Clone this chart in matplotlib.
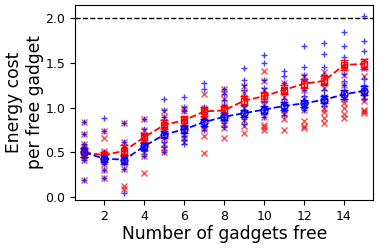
import matplotlib
matplotlib.use("Agg")
import matplotlib.pyplot as plt
import numpy as np

n_free = list(range(1, 16))

red_points = [
    [0.84, 0.71, 0.60, 0.56, 0.52, 0.50, 0.47, 0.45, 0.42, 0.19],
    [0.74, 0.66, 0.52, 0.49, 0.46, 0.43, 0.40, 0.37, 0.30, 0.22],
    [0.83, 0.62, 0.56, 0.52, 0.42, 0.38, 0.31, 0.13, 0.09],
    [0.87, 0.75, 0.70, 0.67, 0.63, 0.60, 0.55, 0.50, 0.46, 0.27],
    [0.96, 0.90, 0.84, 0.80, 0.76, 0.72, 0.66, 0.60, 0.55, 0.51],
    [1.00, 0.96, 0.88, 0.83, 0.79, 0.75, 0.70, 0.66, 0.62],
    [1.15, 1.00, 0.96, 0.90, 0.86, 0.80, 0.76, 0.68, 0.49],
    [1.21, 1.16, 1.10, 1.02, 0.96, 0.88, 0.82, 0.77, 0.66],
    [1.24, 1.16, 1.10, 1.00, 0.93, 0.86, 0.80, 0.72],
    [1.41, 1.30, 1.20, 1.12, 1.03, 0.96, 0.90, 0.81, 0.78, 0.75],
    [1.28, 1.20, 1.12, 1.05, 0.98, 0.93, 0.88, 0.75],
    [1.36, 1.30, 1.20, 1.10, 1.02, 0.98, 0.85, 0.80, 0.77],
    [1.40, 1.33, 1.22, 1.12, 1.05, 0.99, 0.95, 0.89, 0.83],
    [1.46, 1.37, 1.25, 1.15, 1.10, 1.05, 1.00, 0.93, 0.89],
    [1.52, 1.45, 1.35, 1.20, 1.12, 1.08, 0.98, 0.96, 0.94],
]

blue_points = [
    [0.84, 0.71, 0.60, 0.56, 0.52, 0.50, 0.47, 0.45, 0.42, 0.19],
    [0.885, 0.74, 0.50, 0.47, 0.44, 0.42, 0.40, 0.37, 0.30, 0.22],
    [0.83, 0.62, 0.56, 0.52, 0.45, 0.42, 0.38, 0.31, 0.05],
    [0.87, 0.76, 0.70, 0.64, 0.60, 0.57, 0.55, 0.52, 0.46],
    [1.10, 0.97, 0.90, 0.84, 0.78, 0.72, 0.67, 0.62, 0.56, 0.50],
    [1.12, 1.01, 0.96, 0.88, 0.80, 0.76, 0.72, 0.68, 0.64, 0.60],
    [1.28, 1.21, 1.01, 0.95, 0.90, 0.86, 0.82, 0.79, 0.75],
    [1.21, 1.15, 1.09, 1.03, 0.95, 0.90, 0.87, 0.83, 0.78],
    [1.45, 1.31, 1.26, 1.20, 1.13, 1.02, 0.96, 0.92, 0.88, 0.82],
    [1.59, 1.50, 1.31, 1.22, 1.18, 1.07, 1.00, 0.97, 0.93, 0.90],
    [1.41, 1.35, 1.28, 1.22, 1.17, 1.10, 1.04, 1.00, 0.96, 0.92],
    [1.69, 1.46, 1.37, 1.31, 1.20, 1.13, 1.08, 1.04, 1.00, 0.97],
    [1.73, 1.60, 1.46, 1.37, 1.28, 1.20, 1.14, 1.10, 1.06, 1.02],
    [1.85, 1.69, 1.57, 1.46, 1.38, 1.30, 1.25, 1.20, 1.14, 1.10],
    [2.03, 1.75, 1.63, 1.44, 1.32, 1.26, 1.20, 1.17, 1.14, 1.10],
]

red_mean = [0.50, 0.47, 0.52, 0.67, 0.81, 0.86, 0.96, 0.97, 1.08, 1.13, 1.20, 1.27, 1.30, 1.48, 1.49]
red_err = [0.05, 0.04, 0.06, 0.05, 0.05, 0.05, 0.05, 0.05, 0.05, 0.05, 0.05, 0.05, 0.05, 0.06, 0.06]
blue_mean = [0.50, 0.43, 0.42, 0.57, 0.70, 0.76, 0.84, 0.90, 0.94, 0.98, 1.02, 1.05, 1.09, 1.15, 1.19]
blue_err = [0.05, 0.04, 0.05, 0.04, 0.04, 0.04, 0.04, 0.04, 0.04, 0.04, 0.04, 0.04, 0.04, 0.05, 0.05]

fig = plt.figure(figsize=(3.81, 2.48), dpi=100)
ax = fig.add_axes([0.197, 0.194, 0.783, 0.786])

for n, vals in zip(n_free, red_points):
    ax.plot([n] * len(vals), vals, linestyle="none", marker="x", color="red",
            markersize=4, markeredgewidth=1.0, alpha=0.7)
for n, vals in zip(n_free, blue_points):
    ax.plot([n] * len(vals), vals, linestyle="none", marker="+", color="blue",
            markersize=5, markeredgewidth=1.0, alpha=0.75)

ax.errorbar(n_free, red_mean, yerr=red_err, color="red", linestyle="--",
            marker="s", markerfacecolor="none", markersize=5, capsize=3,
            linewidth=1.3, elinewidth=1.0)
ax.errorbar(n_free, blue_mean, yerr=blue_err, color="blue", linestyle="--",
            marker="o", markerfacecolor="none", markersize=5, capsize=3,
            linewidth=1.3, elinewidth=1.0)

ax.axhline(2.0, color="black", linestyle="--", linewidth=1.0)

ax.set_xlim(0.53, 15.47)
ax.set_ylim(-0.03, 2.15)
ax.set_xticks([2, 4, 6, 8, 10, 12, 14])
ax.set_yticks([0.0, 0.5, 1.0, 1.5, 2.0])
ax.tick_params(labelsize=9)
ax.set_xlabel("Number of gadgets free", fontsize=12.3, labelpad=2)
ax.set_ylabel("Energy cost\nper free gadget", fontsize=12.3, labelpad=1)

fig.savefig("out.png", dpi=100)
